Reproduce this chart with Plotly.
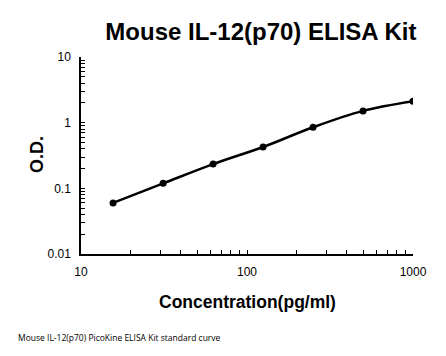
import plotly.graph_objects as go

concentration = [15.6, 31.25, 62.5, 125, 250, 500, 1000]
od = [0.060, 0.119, 0.234, 0.426, 0.85, 1.51, 2.12]

x_tickvals = [m * 10 ** e for e in (1, 2) for m in range(1, 10)] + [1000]
x_ticktext = [("%g" % v) if v in (10, 100, 1000) else "" for v in x_tickvals]
y_tickvals = [m * 10 ** e for e in (-2, -1, 0) for m in range(1, 10)] + [10]
y_ticktext = [("%g" % v) if v in (0.01, 0.1, 1, 10) else "" for v in y_tickvals]

fig = go.Figure()
fig.add_trace(go.Scatter(
    x=concentration, y=od, mode="lines+markers",
    line=dict(color="black", width=2.5, shape="spline"),
    marker=dict(color="black", size=7),
    showlegend=False,
))

fig.update_layout(
    width=446, height=356,
    margin=dict(l=81, r=33, t=57, b=102, autoexpand=False),
    paper_bgcolor="white", plot_bgcolor="white",
    font=dict(family="Liberation Sans, Arial, sans-serif", color="black"),
    title=dict(text="<b>Mouse IL-12(p70) ELISA Kit</b>", x=0.585, xanchor="center",
               y=0.91, yanchor="middle", font=dict(size=24, color="black")),
    annotations=[
        dict(text="<b>Concentration(pg/ml)</b>", xref="paper", yref="paper",
             x=0.5015, y=-0.2437, xanchor="center", yanchor="middle", showarrow=False,
             font=dict(size=17.5, color="black")),
        dict(text="<b>O.D.</b>", xref="paper", yref="paper", textangle=-90,
             x=-0.1325, y=0.5025, xanchor="center", yanchor="middle", showarrow=False,
             font=dict(size=18, color="black")),
        dict(text="Mouse IL-12(p70) PicoKine ELISA Kit standard curve",
             xref="paper", yref="paper", x=-0.196, y=-0.426,
             xanchor="left", yanchor="middle", showarrow=False,
             font=dict(size=8.5, family="Open Sans, sans-serif", color="black")),
    ],
)
fig.update_xaxes(
    type="log", range=[1, 3], tickvals=x_tickvals, ticktext=x_ticktext,
    ticks="inside", ticklen=4, tickcolor="black", tickwidth=1, automargin=False,
    showline=True, linecolor="black", linewidth=1.5, showgrid=False, zeroline=False,
    tickfont=dict(size=12), ticklabelstandoff=6,
)
fig.update_yaxes(
    type="log", range=[-2, 1], tickvals=y_tickvals, ticktext=y_ticktext,
    ticks="inside", ticklen=4, tickcolor="black", tickwidth=1, automargin=False,
    showline=True, linecolor="black", linewidth=1.5, showgrid=False, zeroline=False,
    tickfont=dict(size=12), ticklabelstandoff=6,
)
fig.write_html("out.html", config={"displayModeBar": False},
               post_script="document.body.style.margin='0';")
